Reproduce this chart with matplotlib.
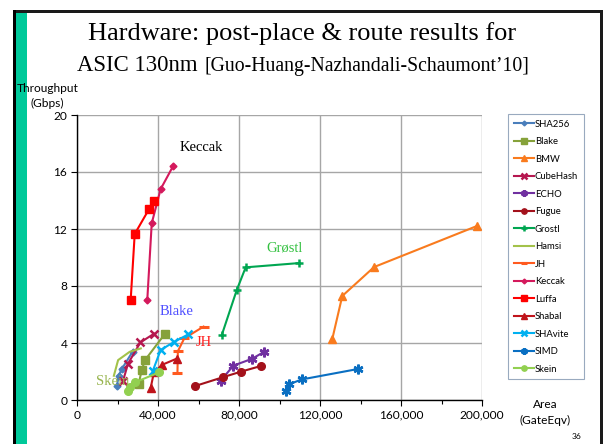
import matplotlib
matplotlib.use("Agg")
import matplotlib.pyplot as plt
from matplotlib.patches import Rectangle
from matplotlib.ticker import MultipleLocator, FuncFormatter

W, H = 603, 444

# ---------------- data (area in GateEqv, throughput in Gbps) ----------------
sha256_x = [19700, 20600, 22000, 27500]
sha256_y = [0.98, 1.70, 2.15, 3.40]
blake_x = [30400, 32000, 33600, 43400]
blake_y = [1.10, 2.12, 2.80, 4.64]
bmw_x = [126100, 131000, 146700, 197500]
bmw_y = [4.30, 7.30, 9.33, 12.21]
cubehash_x = [22700, 25200, 31300, 38000]
cubehash_y = [1.33, 2.55, 4.04, 4.65]
echo_x = [71000, 77200, 86400, 92300]
echo_y = [1.36, 2.41, 2.89, 3.37]
fugue_x = [58300, 72300, 81000, 90900]
fugue_y = [0.98, 1.61, 1.99, 2.39]
grostl_x = [71500, 78900, 83300, 109800]
grostl_y = [4.56, 7.72, 9.31, 9.61]
hamsi_x = [18200, 20300, 26000, 31500]
hamsi_y = [1.70, 2.80, 3.38, 3.62]
jh_x = [49600, 49800, 53000, 62500]
jh_y = [1.86, 3.42, 4.33, 5.15]
keccak_x = [34700, 36900, 41300, 47600]
keccak_y = [7.00, 12.40, 14.80, 16.45]
luffa_x = [26500, 28500, 35600, 38000]
luffa_y = [7.00, 11.65, 13.40, 13.96]
shabal_x = [36400, 38000, 42200, 49200]
shabal_y = [0.86, 1.95, 2.48, 2.90]
shavite_x = [37400, 41300, 48100, 55000]
shavite_y = [2.03, 3.51, 4.09, 4.61]
simd_x = [103000, 104700, 110900, 138900]
simd_y = [0.65, 1.10, 1.44, 2.18]
skein_x = [25000, 26200, 28700, 40700]
skein_y = [0.60, 0.93, 1.24, 1.95]

series_names = ["SHA256", "Blake", "BMW", "CubeHash", "ECHO", "Fugue", "Grostl",
                "Hamsi", "JH", "Keccak", "Luffa", "Shabal", "SHAvite", "SIMD", "Skein"]
series_x = [sha256_x, blake_x, bmw_x, cubehash_x, echo_x, fugue_x, grostl_x,
            hamsi_x, jh_x, keccak_x, luffa_x, shabal_x, shavite_x, simd_x, skein_x]
series_y = [sha256_y, blake_y, bmw_y, cubehash_y, echo_y, fugue_y, grostl_y,
            hamsi_y, jh_y, keccak_y, luffa_y, shabal_y, shavite_y, simd_y, skein_y]

x_ticks = [0, 40000, 80000, 120000, 160000, 200000]
y_ticks = [0, 4, 8, 12, 16, 20]

# annotation labels
label_texts = ["Keccak", "Grøstl", "Blake", "JH", "Skein"]
label_x = [61200, 102700, 49400, 62700, 17800]
label_y = [17.7, 10.7, 6.2, 4.07, 1.33]

# ---------------- styles ----------------
styles = {
    "SHA256":   dict(color="#4A7EBB", marker="D", ms=3.5),
    "Blake":    dict(color="#86A23A", marker="s", ms=5.5),
    "BMW":      dict(color="#F97B1E", marker="^", ms=6),
    "CubeHash": dict(color="#B5174F", marker="x", ms=5.5, mew=1.8),
    "ECHO":     dict(color="#7030A0", marker=(6, 2, 0), ms=7, mew=1.8),
    "Fugue":    dict(color="#A3111B", marker="o", ms=5.5),
    "Grostl":   dict(color="#00A651", marker="+", ms=6, mew=1.8),
    "Hamsi":    dict(color="#A3C24A", marker="None", ms=0),
    "JH":       dict(color="#FF5A1F", marker="_", ms=7, mew=2.2),
    "Keccak":   dict(color="#D4195C", marker="D", ms=3.5),
    "Luffa":    dict(color="#FF0000", marker="s", ms=6),
    "Shabal":   dict(color="#C0141B", marker="^", ms=6),
    "SHAvite":  dict(color="#00B0F0", marker="x", ms=5.5, mew=1.8),
    "SIMD":     dict(color="#0A6FC2", marker=(6, 2, 0), ms=7, mew=1.8),
    "Skein":    dict(color="#92D050", marker="o", ms=5.5),
}
label_colors = ["#000000", "#33C040", "#5050FF", "#FF2020", "#98B54E"]

plt.rcParams["font.family"] = ["Lato", "DejaVu Sans"]

fig = plt.figure(figsize=(W / 100, H / 100), dpi=100)
fig.patch.set_facecolor("white")

# slide frame
def px_rect(x0, y0, x1, y1, color):
    fig.patches.append(Rectangle((x0 / W, 1 - y1 / H), (x1 - x0) / W, (y1 - y0) / H,
                                 transform=fig.transFigure, color=color, lw=0, zorder=0))

px_rect(13, 10, 603, 13, "#1A1A1A")
px_rect(13, 10, 16, H, "#000000")
px_rect(16, 13, 27, H, "#00C99A")
px_rect(600, 10, 603, H, "#1A1A1A")

ax = fig.add_axes([77 / W, 1 - 400 / H, (482 - 77) / W, (400 - 115) / H])
ax.set_xlim(0, 200000)
ax.set_ylim(0, 20)
ax.set_xticks(x_ticks)
ax.set_yticks(y_ticks)
ax.xaxis.set_minor_locator(MultipleLocator(20000))
ax.xaxis.set_major_formatter(FuncFormatter(lambda v, p: f"{int(v):,}"))
ax.yaxis.set_major_formatter(FuncFormatter(lambda v, p: f"{int(v)}"))
ax.tick_params(axis="both", which="major", labelsize=8.6, length=4, width=0.8,
               direction="out", color="#000000", pad=3)
ax.tick_params(axis="x", which="minor", length=3, width=0.8, direction="out")
for s in ["top", "right"]:
    ax.spines[s].set_visible(False)
for s in ["left", "bottom"]:
    ax.spines[s].set_color("#000000")
    ax.spines[s].set_linewidth(1.0)
ax.grid(True, which="major", color="#A6A6A6", lw=1.0)
ax.set_axisbelow(True)

handles = []
for name, xs, ys in zip(series_names, series_x, series_y):
    st = dict(styles[name])
    c = st.pop("color")
    h, = ax.plot(xs, ys, color=c, lw=1.5, mfc=c, mec=c, label=name, clip_on=False, **st)
    handles.append(h)

for t, lx, ly, lc in zip(label_texts, label_x, label_y, label_colors):
    ax.text(lx, ly, t, color=lc, fontsize=10.5, family="Liberation Serif",
            ha="center", va="center")

leg = fig.legend(handles=handles, loc="upper left",
                 bbox_to_anchor=(508 / W, 1 - 114 / H), fontsize=6.8,
                 frameon=True, fancybox=False, edgecolor="#8095B0",
                 handlelength=2.1, handletextpad=0.15, labelspacing=0.9,
                 borderpad=0.6, borderaxespad=0, markerscale=0.7)
leg.get_frame().set_linewidth(0.8)

# titles
fig.text(302 / W, 1 - 40 / H, "Hardware: post-place & route results for",
         family="Liberation Serif", fontsize=19, ha="center", va="baseline")
fig.text(77 / W, 1 - 71 / H, "ASIC 130nm", family="Liberation Serif",
         fontsize=16.4, ha="left", va="baseline")
fig.text(529 / W, 1 - 71 / H, "[Guo-Huang-Nazhandali-Schaumont\u201910]",
         family="Liberation Serif", fontsize=14.2, ha="right", va="baseline")

# axis labels
fig.text(48 / W, 1 - 88 / H, "Throughput", fontsize=8.6, ha="center", va="center")
fig.text(47 / W, 1 - 103 / H, "(Gbps)", fontsize=8.6, ha="center", va="center")
fig.text(545 / W, 1 - 404 / H, "Area", fontsize=8.6, ha="center", va="center")
fig.text(545 / W, 1 - 420 / H, "(GateEqv)", fontsize=8.6, ha="center", va="center")
fig.text(577 / W, 1 - 436 / H, "36", fontsize=6, ha="center", va="center")

fig.savefig("out.png", dpi=100)
